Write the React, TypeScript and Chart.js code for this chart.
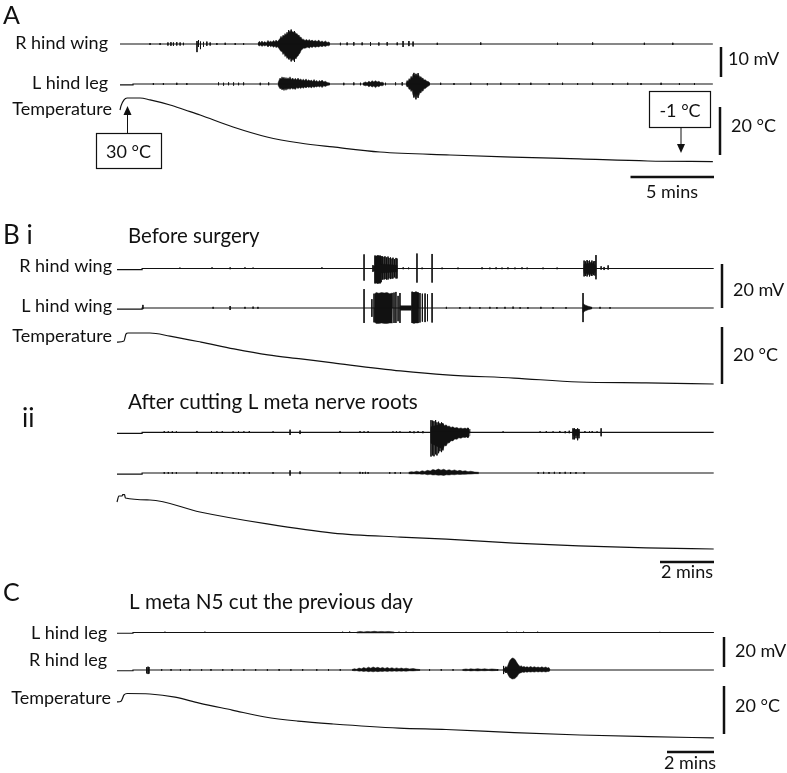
import { useEffect, useRef } from 'react';
import { Chart, registerables } from 'chart.js';

Chart.register(...registerables);

type Pt = [number, number];            // [minutes, value]
type Spike = [number, number, number]; // [minutes, up, down]

// ---------------- DATA (time in minutes, voltage in mV, temperature in °C) ----------------
// Panel A
const A_RWING_BASE: Pt[] = [[0, 0], [35.5, 0]];
const A_RWING_SPIKES: Spike[] = [
  [1.8, 0.3, 0.3], [2.4, 0.3, 0.3], [2.87, 0.5, 0.5], [3.05, 0.6, 0.6], [3.2, 0.5, 0.6], [3.4, 0.6, 0.5],
  [3.6, 0.5, 0.5], [3.8, 0.4, 0.4], [4.61, 1.0, 2.7], [4.7, 1.3, 1.0], [4.82, 0.8, 1.7], [5.0, 0.7, 0.9],
  [5.2, 0.8, 0.6], [5.4, 0.5, 0.5], [5.8, 0.3, 0.3], [6.3, 0.4, 0.3], [6.9, 0.3, 0.3], [7.4, 0.3, 0.3],
  [10.1, 4.6, 5.0], [10.25, 4.8, 5.8], [10.45, 4.3, 6.0],
  [13.2, 0.4, 0.4], [13.6, 0.5, 0.4], [14.0, 0.6, 0.5], [14.5, 0.5, 0.4], [15.0, 0.6, 0.6], [15.5, 0.5, 0.5],
  [16.0, 0.6, 0.5], [16.6, 0.5, 0.4], [16.95, 1.0, 1.0], [17.3, 1.0, 0.7], [17.55, 0.8, 0.8],
  [19.0, 0.4, 0.3], [21.6, 0.5, 0.3], [26.2, 0.4, 0.3], [28.3, 0.5, 0.3], [31.4, 0.4, 0.3], [33.1, 0.4, 0.3],
];
const A_RWING_BURST_1: Spike[] = [
  [8.26, 0.3, 0.3], [8.35, 0.9, 0.7], [8.42, 0.3, 0.3], [8.5, 1.0, 0.8], [8.58, 0.4, 0.4], [8.68, 0.8, 0.7],
  [8.76, 0.3, 0.3], [8.86, 1.2, 1.0], [8.95, 0.6, 0.5], [9.02, 1.0, 0.9], [9.1, 0.6, 0.6], [9.2, 1.2, 1.1],
  [9.28, 0.7, 0.7], [9.34, 1.3, 1.2], [9.43, 0.8, 0.9], [9.52, 1.4, 1.5], [9.58, 1.8, 2.0], [9.64, 2.6, 2.5],
  [9.7, 2.0, 2.4], [9.76, 3.0, 3.5], [9.82, 2.6, 3.0], [9.88, 3.5, 4.2], [9.94, 3.0, 3.8], [10.0, 4.0, 4.8],
  [10.06, 3.4, 4.4], [10.12, 4.3, 5.3], [10.18, 3.8, 4.6], [10.24, 4.4, 5.0], [10.3, 3.9, 5.5], [10.36, 4.2, 5.0],
  [10.42, 3.8, 5.6], [10.48, 4.0, 4.6], [10.54, 3.3, 5.0], [10.6, 3.5, 4.2], [10.66, 2.8, 4.0], [10.72, 3.0, 3.4],
  [10.78, 2.2, 3.0], [10.84, 2.3, 2.2], [10.9, 1.6, 1.8], [10.98, 1.6, 1.4], [11.08, 1.2, 1.4], [11.18, 1.5, 1.2],
  [11.26, 1.0, 1.0], [11.32, 1.5, 1.4], [11.42, 1.0, 0.9], [11.5, 1.3, 1.2], [11.6, 0.9, 0.8], [11.7, 1.2, 1.1],
  [11.8, 0.8, 0.8], [11.9, 1.3, 1.0], [12.0, 0.7, 0.7], [12.1, 1.0, 0.9], [12.2, 0.6, 0.6], [12.3, 1.0, 0.8],
  [12.4, 0.5, 0.5], [12.5, 0.7, 0.6], [12.57, 0.3, 0.3],
];
const A_LLEG_BASE: Pt[] = [[0, -0.3], [0.78, -0.3], [0.78, 0], [35.5, 0]];
const A_LLEG_SPIKES: Spike[] = [
  [2.0, 0.3, 0.3], [2.6, 0.3, 0.3], [3.4, 0.4, 0.3], [4.0, 0.3, 0.3], [5.9, 0.5, 0.4], [6.2, 0.4, 0.5],
  [6.5, 0.5, 0.4], [6.8, 0.5, 0.5], [7.1, 0.4, 0.4], [7.4, 0.5, 0.4], [8.4, 0.4, 0.4], [8.9, 0.5, 0.4],
  [13.4, 0.4, 0.4], [14.0, 0.5, 0.4], [14.4, 0.4, 0.4], [15.9, 0.4, 0.4], [16.5, 0.5, 0.4], [16.9, 0.6, 0.5],
  [17.6, 3.7, 4.5], [17.72, 3.4, 5.1], [17.85, 3.6, 4.6],
  [19.2, 0.4, 0.3], [20.0, 0.3, 0.3], [21.0, 0.4, 0.3], [22.0, 0.3, 0.4], [22.8, 0.4, 0.3], [23.9, 0.3, 0.3],
  [24.6, 0.4, 0.3], [25.7, 0.3, 0.3], [26.5, 0.4, 0.3], [27.4, 0.3, 0.3], [28.3, 0.4, 0.3], [29.5, 0.3, 0.3],
  [30.4, 0.4, 0.3], [31.2, 0.3, 0.3], [32.4, 0.4, 0.3], [33.5, 0.3, 0.3], [34.4, 0.3, 0.3],
];
const A_LLEG_BURST_1: Spike[] = [
  [9.46, 0.3, 0.3], [9.52, 1.2, 1.0], [9.58, 2.0, 1.6], [9.64, 1.6, 1.4], [9.7, 2.4, 2.0], [9.76, 1.8, 1.6],
  [9.82, 2.3, 2.2], [9.88, 1.7, 1.5], [9.94, 2.2, 2.1], [10.0, 1.6, 1.5], [10.06, 2.1, 1.8], [10.12, 1.7, 1.4],
  [10.18, 2.4, 1.8], [10.26, 1.5, 1.3], [10.34, 2.0, 1.7], [10.42, 1.4, 1.5], [10.5, 1.9, 1.8], [10.58, 1.3, 1.2],
  [10.66, 2.0, 1.5], [10.74, 1.3, 1.2], [10.82, 1.7, 1.5], [10.9, 1.2, 1.1], [10.98, 1.6, 1.4], [11.06, 1.1, 1.0],
  [11.14, 1.7, 1.3], [11.22, 1.0, 0.9], [11.3, 1.4, 1.2], [11.38, 1.0, 0.9], [11.46, 1.3, 1.3], [11.54, 0.8, 0.8],
  [11.62, 1.5, 1.2], [11.7, 0.8, 0.8], [11.78, 1.2, 1.0], [11.86, 0.7, 0.7], [11.94, 1.2, 1.0], [12.02, 0.8, 0.7],
  [12.1, 1.3, 1.2], [12.2, 0.7, 0.6], [12.3, 0.9, 0.8], [12.4, 0.5, 0.5], [12.57, 0.3, 0.3],
];
const A_LLEG_BURST_2: Spike[] = [
  [14.55, 0.3, 0.3], [14.7, 0.7, 0.6], [14.8, 0.4, 0.4], [14.9, 0.9, 0.9], [15.0, 0.6, 0.6], [15.1, 1.1, 1.0],
  [15.2, 0.7, 0.7], [15.3, 1.1, 1.2], [15.4, 0.7, 0.7], [15.5, 0.9, 0.9], [15.6, 0.5, 0.5], [15.7, 0.6, 0.6], [15.8, 0.3, 0.3],
];
const A_LLEG_BURST_3: Spike[] = [
  [17.13, 0.3, 0.3], [17.19, 1.2, 1.0], [17.25, 0.8, 0.8], [17.31, 1.8, 1.8], [17.37, 1.4, 1.6], [17.43, 2.6, 2.5],
  [17.49, 2.0, 2.0], [17.55, 3.3, 3.8], [17.6, 2.6, 3.0], [17.66, 3.0, 4.2], [17.72, 2.4, 3.2], [17.78, 3.2, 4.4],
  [17.84, 2.6, 3.4], [17.9, 2.9, 3.8], [17.96, 2.2, 2.8], [18.02, 2.5, 3.0], [18.08, 1.8, 2.2], [18.14, 2.0, 2.4],
  [18.2, 1.3, 1.6], [18.28, 1.4, 1.5], [18.38, 0.9, 1.0], [18.47, 0.8, 0.7], [18.56, 0.3, 0.3],
];
const A_TEMP: Pt[] = [
  [0, 25.0], [0.06, 26.7], [0.24, 29.2], [0.42, 30], [1.2, 30], [1.8, 29.2], [3.0, 27.1], [3.9, 25.0], [4.8, 22.9],
  [6.77, 17.9], [8.8, 13.75], [10.78, 11.25], [12.75, 9.6], [15.57, 7.5], [19.76, 6.25], [23.5, 5.4], [27.5, 4.6],
  [31.6, 3.75], [35.5, 3.5],
];

// Panel B i
const BI_RWING_BASE: Pt[] = [[0, -0.5], [0.93, -0.5], [0.93, 0], [22.1, 0]];
const BI_RWING_SPIKES: Spike[] = [
  [2.33, 0.4, 0.2], [3.52, 0.5, 0.2], [4.19, 0.5, 0.3], [4.74, 0.5, 0.2], [5.04, 0.4, 0.2], [7.59, 0.5, 0.2],
  [9.15, 6.4, 5.5], [9.48, 1.5, 1.5], [9.52, 1.2, 1.2],
  [9.556, 5.9, 6.8], [9.611, 5.7, 6.5], [9.667, 6.0, 6.8], [9.704, 5.5, 6.6], [9.741, 5.9, 6.8], [9.778, 5.6, 6.2],
  [9.833, 5.5, 5.0], [9.889, 5.3, 5.0], [9.926, 5.5, 4.8], [9.981, 5.0, 5.0], [10.037, 5.4, 5.0], [10.074, 4.8, 4.5],
  [10.13, 5.0, 4.8], [10.185, 4.5, 4.6], [10.222, 4.9, 4.5], [10.278, 4.2, 4.0], [10.333, 4.8, 4.5], [10.37, 4.5, 4.5],
  [10.6, 0.5, 0.3], [10.8, 0.4, 0.3], [11.11, 6.8, 6.4], [11.3, 0.4, 0.3], [11.67, 6.6, 6.4],
  [12.04, 0.4, 0.3], [12.63, 0.4, 0.3], [13.52, 0.5, 0.3], [13.81, 0.4, 0.3], [14.04, 0.5, 0.3], [14.26, 0.4, 0.3],
  [14.48, 0.5, 0.3], [14.74, 0.4, 0.3], [15.0, 0.5, 0.3], [15.19, 0.4, 0.3], [15.78, 0.4, 0.3], [16.3, 0.4, 0.3],
  [17.3, 3.6, 3.6], [17.35, 3.2, 3.4], [17.41, 3.8, 3.6], [17.44, 3.4, 3.0], [17.5, 3.6, 3.6], [17.56, 3.0, 3.2],
  [17.59, 3.6, 3.4], [17.65, 3.2, 3.0], [17.7, 3.4, 3.2], [17.74, 6.1, 4.9],
  [17.93, 1.0, 0.5], [18.04, 0.7, 0.7], [18.19, 1.4, 0.5],
];
const BI_RWING_BURST_1: Spike[] = [[9.55, 0, 0], [9.556, 5.5, 6.5], [9.65, 5.8, 6.8], [9.78, 5.5, 6.2], [9.79, 2.0, 2.0], [10.37, 1.5, 1.5], [10.38, 0, 0]];
const BI_RWING_BURST_2: Spike[] = [[17.28, 0, 0], [17.3, 2.0, 2.2], [17.6, 2.5, 2.5], [17.72, 1.5, 1.5], [17.75, 0, 0]];
const BI_LWING_BASE: Pt[] = [[0, -0.5], [0.93, -0.5], [0.93, 0], [22.1, 0]];
const BI_LWING_SPIKES: Spike[] = [
  [0.96, 1.4, 0.5], [3.56, 0.5, 0.3], [4.19, 0.9, 0.9], [4.74, 0.5, 0.3], [5.04, 0.6, 0.3], [5.22, 0.5, 0.3],
  [9.15, 8.6, 6.8], [9.44, 4.0, 4.0], [9.52, 6.5, 6.5],
  [10.26, 7.0, 6.8], [10.33, 7.3, 6.8], [10.41, 5.5, 6.0], [10.48, 6.8, 6.8],
  [10.93, 7.4, 6.8], [11.0, 7.2, 7.0], [11.07, 7.4, 6.6], [11.15, 7.0, 6.8], [11.22, 6.8, 6.6], [11.31, 6.5, 6.2],
  [11.41, 6.6, 6.4], [11.5, 6.2, 6.0], [11.67, 6.8, 6.6],
  [12.2, 0.5, 0.3], [12.7, 0.4, 0.3], [13.07, 0.5, 0.3], [13.44, 0.4, 0.3], [13.81, 0.5, 0.3], [14.07, 0.4, 0.3],
  [14.37, 0.5, 0.3], [14.67, 0.6, 0.3], [14.93, 0.4, 0.3], [15.22, 0.4, 0.3], [15.7, 0.5, 0.3], [16.15, 0.4, 0.3],
  [16.63, 0.4, 0.3], [17.26, 6.8, 6.4], [17.89, 0.5, 0.3], [18.26, 0.4, 0.3],
];
const BI_LWING_BURST_1: Spike[] = [
  [9.54, 0, 0], [9.55, 6.5, 6.5], [9.6, 7.0, 7.0], [9.7, 6.7, 7.0], [9.8, 7.0, 6.8], [9.9, 6.8, 7.0],
  [10.0, 7.0, 7.0], [10.1, 6.5, 6.8], [10.2, 6.8, 6.8], [10.21, 0, 0],
];
const BI_LWING_BURST_2: Spike[] = [[10.48, 0, 0], [10.49, 1.0, 1.0], [10.9, 1.0, 1.0], [10.92, 0, 0]];
const BI_LWING_BURST_3: Spike[] = [[10.92, 0, 0], [10.93, 7.2, 6.8], [11.0, 7.0, 6.8], [11.08, 7.3, 6.8], [11.15, 7.0, 6.8], [11.16, 0, 0]];
const BI_LWING_BURST_4: Spike[] = [[17.26, 0, 0], [17.27, 2.0, 2.0], [17.33, 1.4, 1.4], [17.45, 0.8, 0.8], [17.6, 0.3, 0.3]];
const BI_TEMP: Pt[] = [
  [0, 26.8], [0.26, 27.2], [0.33, 29.6], [0.41, 30], [1.22, 30], [1.96, 28.9], [3.11, 26.8], [4.33, 24.4],
  [5.59, 22.3], [6.81, 20.9], [8.0, 19.5], [10.5, 16.7], [12.2, 15.3], [14.7, 14.2], [17.1, 12.8], [19.6, 12.5], [22.1, 12.1],
];

// Panel B ii
const BII_T1_BASE: Pt[] = [[0, -0.5], [0.93, -0.5], [0.93, 0], [22.1, 0]];
const BII_T1_SPIKES: Spike[] = [
  [1.75, 0.5, 0.3], [1.9, 0.4, 0.3], [2.05, 0.5, 0.3], [2.2, 0.4, 0.3], [2.96, 0.6, 0.3], [3.5, 0.5, 0.3],
  [3.7, 0.4, 0.3], [3.9, 0.5, 0.3], [4.3, 0.4, 0.3], [4.5, 0.5, 0.3], [4.7, 0.4, 0.3], [4.9, 0.5, 0.3],
  [5.78, 0.4, 0.3], [6.41, 1.2, 1.2], [6.78, 0.8, 0.8], [8.26, 0.6, 0.3], [9.0, 0.5, 0.3], [9.15, 0.4, 0.3],
  [9.3, 0.5, 0.3], [10.22, 0.4, 0.3], [10.35, 0.4, 0.3], [10.48, 0.4, 0.3], [10.85, 0.5, 0.3], [11.0, 0.4, 0.4],
  [11.15, 0.5, 0.3], [11.33, 0.5, 0.4],
  [11.63, 5.5, 11.0], [11.69, 5.3, 10.5], [11.74, 5.0, 10.9], [11.8, 5.5, 10.0], [11.85, 4.5, 10.5],
  [11.91, 4.8, 9.5], [11.96, 4.1, 8.6], [12.02, 4.5, 9.0], [12.07, 4.0, 8.2], [13.0, 2.0, 2.3],
  [14.3, 0.4, 0.3], [15.67, 0.4, 0.3], [15.9, 0.5, 0.3], [16.15, 0.4, 0.3], [16.4, 0.6, 0.3], [16.6, 0.5, 0.4],
  [16.75, 0.7, 0.4], [16.89, 1.8, 3.2], [16.94, 1.8, 3.2], [17.0, 1.4, 2.7], [17.06, 1.8, 3.6], [17.11, 1.4, 2.7],
  [17.33, 0.5, 0.3], [17.5, 0.4, 0.3], [17.6, 0.5, 0.3], [17.78, 0.4, 0.3], [17.93, 1.8, 1.8],
];
const BII_T1_BURST_1: Spike[] = [
  [11.62, 0, 0], [11.63, 2.5, 5.0], [11.96, 3.5, 7.0], [12.07, 4.0, 7.7], [12.13, 3.0, 6.0], [12.19, 3.4, 6.2],
  [12.25, 2.6, 4.8], [12.3, 2.9, 4.9], [12.37, 2.2, 3.8], [12.44, 2.5, 3.9], [12.51, 1.9, 3.0], [12.59, 2.2, 3.2],
  [12.66, 1.7, 2.5], [12.74, 2.0, 2.7], [12.81, 1.6, 2.2], [12.89, 1.9, 2.4], [12.95, 1.6, 2.1], [13.0, 2.0, 2.5],
  [13.04, 1.5, 1.6], [13.07, 0, 0],
];
const BII_T1_BURST_2: Spike[] = [[16.88, 0, 0], [16.89, 1.2, 1.5], [17.11, 1.2, 1.5], [17.12, 0, 0]];
const BII_T2_BASE: Pt[] = [[0, -0.5], [0.93, -0.5], [0.93, 0], [22.1, 0]];
const BII_T2_SPIKES: Spike[] = [
  [1.75, 0.4, 0.3], [1.9, 0.4, 0.3], [2.05, 0.4, 0.3], [2.2, 0.4, 0.3], [2.96, 0.5, 0.3], [3.5, 0.4, 0.3],
  [3.7, 0.4, 0.3], [3.9, 0.4, 0.3], [4.3, 0.4, 0.3], [4.5, 0.4, 0.3], [4.7, 0.4, 0.3], [4.9, 0.4, 0.3],
  [5.78, 0.4, 0.3], [6.41, 1.2, 1.2], [6.78, 0.7, 0.5], [8.26, 0.5, 0.3], [9.0, 0.5, 0.3], [9.1, 0.4, 0.3],
  [9.2, 0.5, 0.3], [9.3, 0.4, 0.3], [10.1, 0.4, 0.3], [10.3, 0.4, 0.3], [10.5, 0.4, 0.3],
  [15.6, 0.4, 0.3], [15.8, 0.5, 0.3], [16.0, 0.4, 0.3], [16.2, 0.5, 0.3], [16.4, 0.4, 0.3], [16.6, 0.5, 0.3],
  [16.8, 0.4, 0.3], [17.0, 0.4, 0.3], [17.3, 0.4, 0.3],
];
const BII_T2_BURST_1: Spike[] = [
  [10.8, 0.3, 0.3], [10.9, 0.6, 0.4], [11.0, 0.4, 0.3], [11.1, 0.8, 0.5], [11.2, 0.5, 0.4], [11.3, 1.0, 0.6],
  [11.4, 0.7, 0.5], [11.5, 1.2, 0.8], [11.6, 0.9, 0.6], [11.7, 1.6, 0.9], [11.8, 1.2, 0.8], [11.9, 1.8, 1.0],
  [12.0, 1.3, 0.9], [12.1, 1.7, 1.1], [12.2, 1.1, 0.8], [12.3, 1.5, 0.9], [12.4, 1.0, 0.7], [12.5, 1.4, 0.8],
  [12.6, 0.9, 0.6], [12.7, 1.2, 0.7], [12.8, 0.8, 0.6], [12.9, 1.0, 0.6], [13.0, 0.6, 0.5], [13.1, 0.8, 0.5],
  [13.25, 0.4, 0.3], [13.4, 0.3, 0.3],
];
const BII_TEMP: Pt[] = [
  [0, 28.6], [0.07, 30.7], [0.19, 30.7], [0.21, 31.2], [0.28, 31.2], [0.31, 30.0], [1.22, 29.3], [3.07, 25.1],
  [5.56, 20.9], [8.0, 17.7], [10.5, 16.3], [12.2, 15.6], [14.7, 14.2], [17.1, 13.2], [19.6, 12.5], [22.1, 12.1],
];

// Panel C
const C_LLEG_BASE: Pt[] = [[0, -0.5], [0.68, -0.5], [0.68, 0], [25.4, 0]];
const C_LLEG_SPIKES: Spike[] = [
  [2.04, 0.5, 0.3], [3.74, 0.5, 0.3], [9.6, 0.5, 0.3], [9.9, 0.6, 0.3], [12.0, 0.5, 0.3], [12.3, 0.5, 0.3],
  [12.6, 0.4, 0.3], [16.6, 0.5, 0.3], [17.0, 0.4, 0.3], [17.3, 0.5, 0.3], [17.9, 0.5, 0.3], [23.1, 0.4, 0.3],
];
const C_LLEG_BURST_1: Spike[] = [
  [10.2, 0.3, 0.3], [10.35, 0.7, 0.3], [10.5, 0.4, 0.3], [10.65, 0.7, 0.3], [10.8, 0.5, 0.3], [10.95, 0.8, 0.3],
  [11.1, 0.5, 0.3], [11.25, 0.7, 0.3], [11.4, 0.5, 0.3], [11.55, 0.7, 0.3], [11.8, 0.3, 0.3],
];
const C_RLEG_BASE: Pt[] = [[0, -0.5], [0.68, -0.5], [0.68, 0], [25.4, 0]];
const C_RLEG_SPIKES: Spike[] = [
  [1.26, 1.8, 2.2], [1.32, 2.2, 2.7], [1.36, 2.0, 2.4], [1.9, 0.5, 0.4], [2.3, 0.6, 0.4], [2.7, 0.5, 0.4],
  [3.1, 0.6, 0.4], [3.6, 0.5, 0.4], [4.0, 0.6, 0.4], [4.5, 0.5, 0.4], [4.9, 0.6, 0.4], [5.4, 0.5, 0.4],
  [5.9, 0.6, 0.4], [6.4, 0.5, 0.4], [6.9, 0.6, 0.4], [7.4, 0.5, 0.4], [7.9, 0.6, 0.4], [8.5, 0.5, 0.4],
  [9.0, 0.6, 0.4], [9.5, 0.5, 0.4], [13.3, 0.5, 0.4], [13.8, 0.6, 0.4], [14.3, 0.5, 0.4], [16.2, 0.6, 0.4],
  [16.45, 2.7, 2.7], [16.55, 2.2, 2.0],
];
const C_RLEG_BURST_1: Spike[] = [
  [10.0, 0.3, 0.3], [10.1, 0.9, 0.5], [10.2, 0.5, 0.4], [10.3, 1.3, 0.8], [10.4, 0.8, 0.6], [10.5, 1.6, 1.0],
  [10.6, 1.0, 0.7], [10.7, 1.9, 1.1], [10.8, 1.2, 0.8], [10.9, 2.0, 1.2], [11.0, 1.3, 0.8], [11.1, 1.8, 1.1],
  [11.2, 1.1, 0.8], [11.3, 1.7, 1.0], [11.4, 1.0, 0.7], [11.5, 1.6, 1.0], [11.6, 1.0, 0.7], [11.7, 1.5, 0.9],
  [11.8, 0.9, 0.6], [11.9, 1.4, 0.9], [12.0, 0.9, 0.6], [12.1, 1.3, 0.8], [12.2, 0.8, 0.6], [12.3, 1.2, 0.8],
  [12.45, 0.7, 0.5], [12.6, 1.0, 0.6], [12.75, 0.5, 0.4], [12.9, 0.3, 0.3],
];
const C_RLEG_BURST_2: Spike[] = [
  [14.7, 0.3, 0.3], [14.85, 0.7, 0.5], [14.95, 0.4, 0.3], [15.05, 0.8, 0.6], [15.2, 0.5, 0.4], [15.35, 0.9, 0.6],
  [15.5, 0.5, 0.4], [15.65, 0.8, 0.5], [15.8, 0.4, 0.3], [15.95, 0.7, 0.5], [16.2, 0.3, 0.3],
];
const C_RLEG_BURST_3: Spike[] = [
  [16.43, 0.4, 0.4], [16.47, 1.4, 1.2], [16.51, 0.9, 0.9], [16.55, 1.8, 1.6], [16.59, 1.4, 1.3], [16.63, 3.0, 2.8],
  [16.67, 4.6, 4.0], [16.71, 6.2, 5.0], [16.75, 7.0, 5.3], [16.79, 7.6, 5.8], [16.83, 8.0, 6.0], [16.87, 7.8, 5.9],
  [16.91, 7.4, 5.8], [16.95, 6.8, 5.4], [16.99, 5.6, 4.9], [17.03, 4.6, 4.2], [17.07, 3.6, 3.2], [17.11, 3.0, 2.4],
  [17.15, 2.4, 2.0], [17.2, 2.8, 1.8], [17.26, 2.0, 1.4], [17.32, 2.4, 1.6], [17.38, 1.8, 1.2], [17.45, 2.2, 1.5],
  [17.52, 1.7, 1.1], [17.6, 2.3, 1.4], [17.68, 1.7, 1.1], [17.76, 2.2, 1.4], [17.84, 1.6, 1.0], [17.92, 2.0, 1.3],
  [18.0, 1.5, 1.0], [18.08, 2.1, 1.3], [18.16, 1.5, 1.0], [18.24, 2.0, 1.3], [18.32, 1.4, 1.0], [18.38, 1.6, 1.0],
  [18.43, 0.3, 0.3],
];
const C_TEMP: Pt[] = [
  [0, 26.5], [0.17, 26.8], [0.3, 29.4], [0.43, 30], [1.4, 29.8], [2.47, 28.5], [3.5, 26], [4.9, 23.1], [6.3, 20.2],
  [7.7, 18.5], [9.2, 17.3], [12.0, 15.6], [14.0, 15.0], [16.9, 13.7], [19.7, 12.7], [22.6, 12.0], [25.4, 11.5],
];

// Scale-bar values
const SCALE_A = { minutes: 5, mV: 10, degC: 20 };
const SCALE_B = { minutes: 2, mV: 20, degC: 20 };
const SCALE_C = { minutes: 2, mV: 20, degC: 20 };

// ---------------- LAYOUT (pixels) ----------------
const W = 787;
const H = 773;
const INK = '#111';
const FONT = 'Lato, "Open Sans", sans-serif';

// x axes: pixel of t = 0, pixels per minute
const X_LAYOUT: Record<string, [number, number]> = { xA: [120, 16.7], xB: [117, 27], xC: [117, 23.5] };
// y axes: pixel of reference value, reference value, pixels per unit
const Y_LAYOUT: Record<string, [number, number, number]> = {
  yA1: [44, 0, 3], yA2: [84, 0, 3], yA3: [98, 30, 2.4],
  yB1: [268.5, 0, 2.2], yB2: [308, 0, 2.2], yB3: [333, 30, 2.85],
  yB4: [432.3, 0, 2.2], yB5: [473, 0, 2.2], yB6: [498, 30, 2.85],
  yC1: [632.5, 0, 1.5], yC2: [670, 0, 1.5], yC3: [693.5, 30, 2.4],
};

interface Trace { x: string; y: string; base: Pt[]; spikes: Spike[]; bursts: Spike[][] }
interface Temp { x: string; y: string; pts: Pt[] }

const TRACES: Trace[] = [
  { x: 'xA', y: 'yA1', base: A_RWING_BASE, spikes: A_RWING_SPIKES, bursts: [A_RWING_BURST_1] },
  { x: 'xA', y: 'yA2', base: A_LLEG_BASE, spikes: A_LLEG_SPIKES, bursts: [A_LLEG_BURST_1, A_LLEG_BURST_2, A_LLEG_BURST_3] },
  { x: 'xB', y: 'yB1', base: BI_RWING_BASE, spikes: BI_RWING_SPIKES, bursts: [BI_RWING_BURST_1, BI_RWING_BURST_2] },
  { x: 'xB', y: 'yB2', base: BI_LWING_BASE, spikes: BI_LWING_SPIKES, bursts: [BI_LWING_BURST_1, BI_LWING_BURST_2, BI_LWING_BURST_3, BI_LWING_BURST_4] },
  { x: 'xB', y: 'yB4', base: BII_T1_BASE, spikes: BII_T1_SPIKES, bursts: [BII_T1_BURST_1, BII_T1_BURST_2] },
  { x: 'xB', y: 'yB5', base: BII_T2_BASE, spikes: BII_T2_SPIKES, bursts: [BII_T2_BURST_1] },
  { x: 'xC', y: 'yC1', base: C_LLEG_BASE, spikes: C_LLEG_SPIKES, bursts: [C_LLEG_BURST_1] },
  { x: 'xC', y: 'yC2', base: C_RLEG_BASE, spikes: C_RLEG_SPIKES, bursts: [C_RLEG_BURST_1, C_RLEG_BURST_2, C_RLEG_BURST_3] },
];
const TEMPS: Temp[] = [
  { x: 'xA', y: 'yA3', pts: A_TEMP },
  { x: 'xB', y: 'yB3', pts: BI_TEMP },
  { x: 'xB', y: 'yB6', pts: BII_TEMP },
  { x: 'xC', y: 'yC3', pts: C_TEMP },
];

// [text, x, baseline y, align, size]
const LABELS: [string, number, number, CanvasTextAlign, number][] = [
  ['A', 3, 23.5, 'left', 25],
  ['R hind wing', 108, 49, 'right', 18],
  ['L hind leg', 108, 88.5, 'right', 18],
  ['Temperature', 112, 115, 'right', 18],
  ['10 mV', 728, 65, 'left', 18],
  ['20 °C', 731, 132, 'left', 18],
  ['5 mins', 672, 198, 'center', 18],
  ['30 °C', 128.5, 157.5, 'center', 18],
  ['-1 °C', 680, 116.5, 'center', 18],
  ['B i', 3, 243.5, 'left', 26],
  ['Before surgery', 128, 243, 'left', 20.4],
  ['R hind wing', 112, 272, 'right', 18],
  ['L hind wing', 112, 312, 'right', 18],
  ['Temperature', 112, 342, 'right', 18],
  ['20 mV', 733, 296, 'left', 18],
  ['20 °C', 733, 361, 'left', 18],
  ['ii', 22, 427, 'left', 26],
  ['After cutting L meta nerve roots', 128, 409, 'left', 20.7],
  ['2 mins', 687, 577.5, 'center', 18],
  ['C', 3, 601, 'left', 25],
  ['L meta N5 cut the previous day', 129, 609, 'left', 20.7],
  ['L hind leg', 107, 639, 'right', 18],
  ['R hind leg', 107, 666, 'right', 18],
  ['Temperature', 111, 703.5, 'right', 18],
  ['20 mV', 735, 657, 'left', 18],
  ['20 °C', 735, 712, 'left', 18],
  ['2 mins', 690, 769, 'center', 18],
];

// vertical scale bars: [axis, value, x px, bottom px]
const V_BARS: [string, number, number, number][] = [
  ['yA2', SCALE_A.mV, 721, 77], ['yA3', SCALE_A.degC, 720, 155],
  ['yB2', SCALE_B.mV, 722, 308], ['yB3', SCALE_B.degC, 722, 384],
  ['yC2', SCALE_C.mV, 724, 667], ['yC3', SCALE_C.degC, 724, 734],
];
// horizontal time bars: [axis, minutes, right px, y px]
const H_BARS: [string, number, number, number][] = [
  ['xA', SCALE_A.minutes, 714, 177], ['xB', SCALE_B.minutes, 714, 562], ['xC', SCALE_C.minutes, 714, 752],
];
// annotation boxes [x, y, w, h] and arrows [x, from y, tip y]
const BOXES: [number, number, number, number][] = [[96, 133, 65, 35], [649, 91, 61, 36]];
const ARROWS: [number, number, number][] = [[127.5, 133, 106], [681, 127, 153]];

// ---------------- BUILD ----------------
const xy = (pts: Pt[]) => pts.map(([x, y]) => ({ x, y }));

function spikeData(sp: Spike[]) {
  const out: { x: number; y: number | null }[] = [];
  for (const [t, up, dn] of sp) out.push({ x: t, y: up }, { x: t, y: -dn }, { x: t, y: null });
  return out;
}

function buildDatasets() {
  const ds: any[] = [];
  const common = (x: string, y: string, w: number) => ({
    xAxisID: x, yAxisID: y, borderColor: INK, borderWidth: w, pointRadius: 0, tension: 0,
    spanGaps: false, fill: false, clip: false,
  });
  for (const tr of TRACES) {
    ds.push({ ...common(tr.x, tr.y, 1.2), data: xy(tr.base) });
    for (const b of tr.bursts) {
      ds.push({ ...common(tr.x, tr.y, 0.5), data: b.map(([t, u]) => ({ x: t, y: u })), fill: '+1', backgroundColor: INK });
      ds.push({ ...common(tr.x, tr.y, 0.5), data: b.map(([t, , d]) => ({ x: t, y: -d })) });
    }
    ds.push({ ...common(tr.x, tr.y, 0.9), data: spikeData(tr.spikes) });
  }
  for (const tp of TEMPS) {
    ds.push({ ...common(tp.x, tp.y, 1.2), data: xy(tp.pts), cubicInterpolationMode: 'monotone' });
  }
  return ds;
}

function buildScales() {
  const scales: any = {};
  for (const [id, [p0, k]] of Object.entries(X_LAYOUT)) {
    const min = -p0 / k;
    scales[id] = { type: 'linear', axis: 'x', position: 'bottom', display: false, min, max: min + W / k, bounds: 'data' };
  }
  for (const [id, [p, ref, k]] of Object.entries(Y_LAYOUT)) {
    const max = ref + p / k;
    scales[id] = { type: 'linear', axis: 'y', position: 'left', display: false, min: max - H / k, max, bounds: 'data' };
  }
  return scales;
}

const annotPlugin = {
  id: 'figureAnnotations',
  afterDraw(chart: any) {
    const ctx: CanvasRenderingContext2D = chart.ctx;
    ctx.save();
    ctx.strokeStyle = INK;
    ctx.fillStyle = INK;
    // scale bars
    ctx.lineWidth = 2.5;
    for (const [axis, v, x, bottom] of V_BARS) {
      const s = chart.scales[axis];
      const len = Math.abs(s.getPixelForValue(v) - s.getPixelForValue(0));
      ctx.beginPath(); ctx.moveTo(x, bottom); ctx.lineTo(x, bottom - len); ctx.stroke();
    }
    for (const [axis, v, right, y] of H_BARS) {
      const s = chart.scales[axis];
      const len = Math.abs(s.getPixelForValue(v) - s.getPixelForValue(0));
      ctx.beginPath(); ctx.moveTo(right - len, y); ctx.lineTo(right, y); ctx.stroke();
    }
    // boxes
    ctx.lineWidth = 1.2;
    for (const [x, y, w, h] of BOXES) ctx.strokeRect(x + 0.5, y + 0.5, w, h);
    // arrows
    for (const [x, from, tip] of ARROWS) {
      const dir = tip < from ? 1 : -1;
      const head = 9;
      ctx.lineWidth = 1;
      ctx.beginPath(); ctx.moveTo(x, from); ctx.lineTo(x, tip + dir * head); ctx.stroke();
      ctx.beginPath();
      ctx.moveTo(x, tip);
      ctx.lineTo(x - 4, tip + dir * head);
      ctx.lineTo(x + 4, tip + dir * head);
      ctx.closePath(); ctx.fill();
    }
    // text
    ctx.textBaseline = 'alphabetic';
    for (const [text, x, y, align, size] of LABELS) {
      ctx.font = `${size}px ${FONT}`;
      ctx.textAlign = align;
      ctx.fillText(text, x, y);
    }
    ctx.restore();
  },
};

export default function App() {
  const ref = useRef<HTMLCanvasElement | null>(null);
  useEffect(() => {
    if (!ref.current) return;
    const chart = new Chart(ref.current, {
      type: 'line',
      data: { datasets: buildDatasets() },
      options: {
        responsive: false,
        animation: false,
        devicePixelRatio: 1,
        events: [],
        layout: { padding: 0 },
        plugins: { legend: { display: false }, tooltip: { enabled: false }, title: { display: false } },
        elements: { point: { radius: 0, hoverRadius: 0, hitRadius: 0 }, line: { borderCapStyle: 'butt' } },
        scales: buildScales(),
      } as any,
      plugins: [annotPlugin],
    });
    return () => chart.destroy();
  }, []);
  return (
    <canvas
      ref={ref}
      width={W}
      height={H}
      style={{ position: 'absolute', left: 0, top: 0, width: W, height: H, background: '#fff' }}
    />
  );
}
